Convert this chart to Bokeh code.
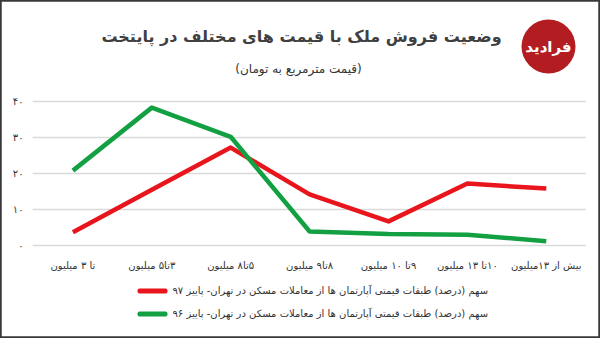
from bokeh.plotting import figure
from bokeh.models import Label, BoxAnnotation, Range1d
from bokeh.core.properties import value
from bokeh.embed import file_html
from bokeh.resources import INLINE

RLE, PDF = "\u202B", "\u202C"

categories = ["تا ۳ میلیون", "۳تا۵ میلیون", "۵تا۸ میلیون", "۸تا۹ میلیون",
              "۹تا ۱۰ میلیون", "۱۰تا ۱۳ میلیون", "بیش از ۱۳میلیون"]
autumn97 = [3.7, 15.5, 27.2, 14.2, 6.7, 17.2, 15.8]
autumn96 = [20.8, 38.3, 30.2, 3.9, 3.2, 3.0, 1.2]
y_ticks = [0, 10, 20, 30, 40]
y_tick_labels = ["۰", "۱۰", "۲۰", "۳۰", "۴۰"]
label97 = "سهم (درصد) طبقات قیمتی آپارتمان ها از معاملات مسکن در تهران- پاییز ۹۷"
label96 = "سهم (درصد) طبقات قیمتی آپارتمان ها از معاملات مسکن در تهران- پاییز ۹۶"
title_text = "وضعیت فروش ملک با قیمت های مختلف در پایتخت"
subtitle_text = "(قیمت مترمربع به تومان)"
logo_text = "فرادید"

FONT = "DejaVu Sans"
RED = "#e8161c"
GREEN = "#13a043"
W, H = 600, 338

def rtl(s):
    return RLE + s + PDF

# The frame covers the whole canvas; the plotting area is set by the ranges.
xpos = list(range(len(categories)))
PX_PER_X = 78.9
X0_PX = 72.4
PX_PER_Y = 3.6
Y0_PX = 245.0  # pixel row (from top) of the zero line
x_start = -X0_PX / PX_PER_X
y_start = (Y0_PX - H) / PX_PER_Y

p = figure(width=W, height=H,
           x_range=Range1d(x_start, x_start + W / PX_PER_X),
           y_range=Range1d(y_start, y_start + H / PX_PER_Y),
           output_backend="svg", toolbar_location=None,
           min_border=0)
p.axis.visible = False
p.grid.visible = False
p.background_fill_color = "white"
p.border_fill_color = "white"
p.outline_line_color = "#3a3a3a"
p.outline_line_width = 2.5

def px_to_x(px):
    return x_start + px / PX_PER_X

def py_to_y(py):
    return (Y0_PX - py) / PX_PER_Y

# grid lines
n = len(y_ticks)
p.segment(x0=[xpos[0] - 0.51] * n, x1=[xpos[-1] + 0.5] * n, y0=y_ticks, y1=y_ticks,
          line_color="#d9d9d9", line_width=1.5)

# y tick labels
p.text(x=[px_to_x(23)] * n, y=y_ticks, text=y_tick_labels,
       text_font=value(FONT), text_font_size="10px", text_color="#333333",
       text_align="right", text_baseline="middle")

# x category labels
p.text(x=xpos, y=[py_to_y(265)] * len(categories), text=[rtl(c) for c in categories],
       text_font=value(FONT), text_font_size="10px", text_color="#333333",
       text_align="center", text_baseline="middle")

# series
p.line(xpos, autumn97, line_color=RED, line_width=4.5, line_join="round")
p.line(xpos, autumn96, line_color=GREEN, line_width=4.5, line_join="round")

def slabel(x, py, text, size, bold=False, color="#333333", align="center"):
    p.add_layout(Label(x=x, y=H - py, x_units="screen", y_units="screen", text=rtl(text),
                       text_font=FONT, text_font_size=size,
                       text_font_style="bold" if bold else "normal",
                       text_color=color, text_align=align, text_baseline="middle"))

def sbox(l, r, top_py, bottom_py, color, radius=0):
    p.add_layout(BoxAnnotation(left=l, right=r, top=H - top_py, bottom=H - bottom_py,
                               left_units="screen", right_units="screen",
                               top_units="screen", bottom_units="screen",
                               fill_color=color, fill_alpha=1, line_color=None,
                               border_radius=radius))

# title and subtitle
slabel(301, 36, title_text, "16px", bold=True, color="#404040")
slabel(298, 68, subtitle_text, "12px")

# logo
sbox(521, 575, 19, 73, "#b31d22", radius=27)
slabel(548, 46, logo_text, "15px", bold=True, color="white")

# legend
sbox(137, 167, 288, 293, RED, radius=2)
slabel(172, 290, label97, "10px", align="left")
sbox(137, 167, 311, 316, GREEN, radius=2)
slabel(172, 313, label96, "10px", align="left")

open("out.html", "w").write(file_html(p, INLINE))
